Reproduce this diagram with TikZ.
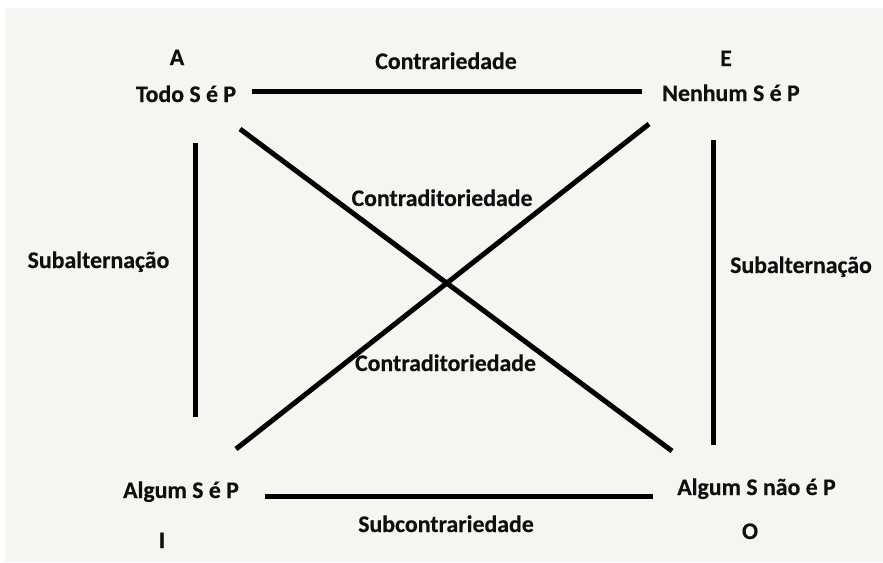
\documentclass[tikz,border=0pt]{standalone}
\usepackage{fontspec}
\setmainfont{Carlito}[BoldFeatures={FakeBold=0.4}]
\definecolor{bgcol}{RGB}{246,245,242}
\definecolor{ink}{RGB}{15,15,15}
\begin{document}
\begin{tikzpicture}[x=1pt,y=-1pt,
  lbl/.style={anchor=base,inner sep=0pt,font=\fontsize{23.8}{28}\selectfont\bfseries,text=ink},
  bar/.style={line width=5pt,black}]
\useasboundingbox (0,0) rectangle (883,562);
\fill[white] (0,0) rectangle (883,562);
\fill[bgcol] (5,8) rectangle (883,562);
% labels
\node[lbl] (A) at (177,65) {A};
\node[lbl] (todo) at (186,102) {Todo S é P};
\node[lbl] (contr) at (446,69) {Contrariedade};
\node[lbl] (E) at (726,66) {E};
\node[lbl] (nenhum) at (731,101) {Nenhum S é P};
\node[lbl] (subL) at (98.5,268) {Subalternação};
\node[lbl] (subR) at (801,273) {Subalternação};
\node[lbl] (cd1) at (442,206) {Contraditoriedade};
\node[lbl] (cd2) at (445.5,371) {Contraditoriedade};
\node[lbl] (algum) at (181,498) {Algum S é P};
\node[lbl] (algumnao) at (756.5,495) {Algum S não é P};
\node[lbl] (subc) at (446,532) {Subcontrariedade};
\node[lbl] (I) at (162,548) {I};
\node[lbl] (O) at (750,539) {O};
% line ends
\coordinate (t1) at (252,91);
\coordinate (t2) at (642,91);
\coordinate (b1) at (265,496);
\coordinate (b2) at (653,496);
\coordinate (l1) at (195,143);
\coordinate (l2) at (195,417);
\coordinate (r1) at (713,140);
\coordinate (r2) at (713,445);
\coordinate (d1a) at (240,129);
\coordinate (d1b) at (672,451);
\coordinate (d2a) at (649,124);
\coordinate (d2b) at (236,449);
\draw[bar] (t1) -- (t2);
\draw[bar] (b1) -- (b2);
\draw[bar] (l1) -- (l2);
\draw[bar] (r1) -- (r2);
\draw[bar] (d1a) -- (d1b);
\draw[bar] (d2a) -- (d2b);
\end{tikzpicture}
\end{document}
